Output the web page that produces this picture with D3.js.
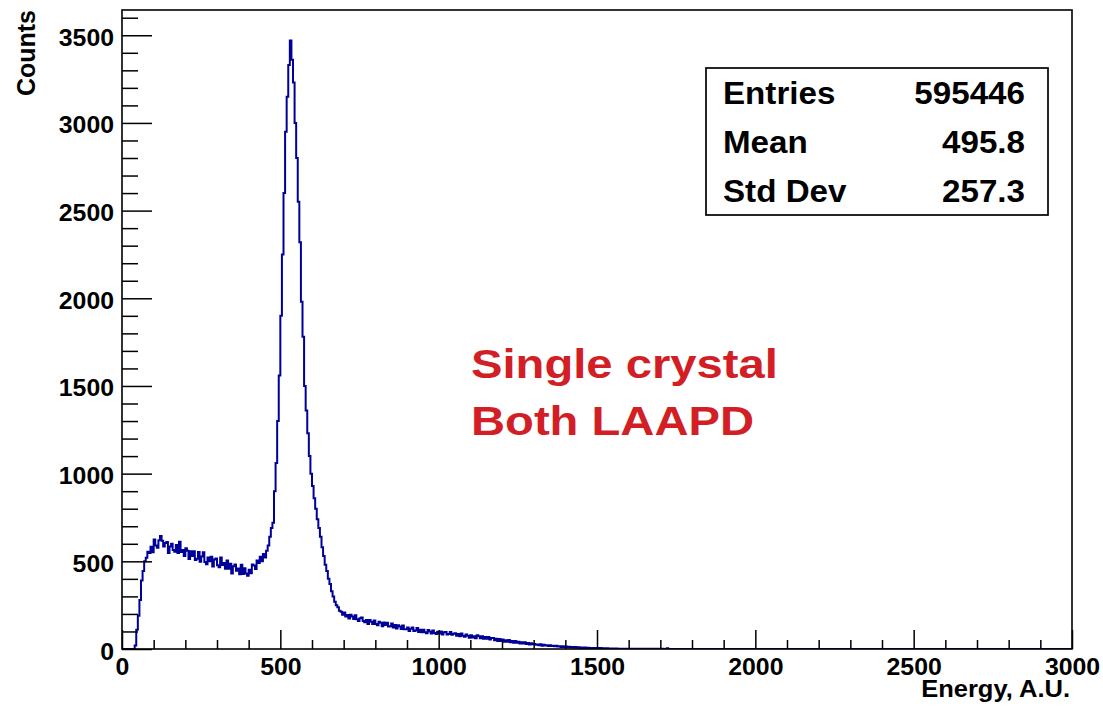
<!DOCTYPE html>
<html>
<head>
<meta charset="utf-8">
<script src="https://cdn.jsdelivr.net/npm/d3@7"></script>
<style>
  body { margin: 0; background: #ffffff; }
  text { font-family: "Liberation Sans", Arial, Helvetica, sans-serif; font-weight: bold; }
</style>
</head>
<body>
<svg id="chart" width="1103" height="708"></svg>
<script>
// Energy histogram: bins of 5 A.U. starting at 0, ten bins per row
const binStart = 0;
const binWidth = 5;
const counts = [
  0, 0, 0, 0, 0, 0, 0, 0, 20, 110,                       // 0
  190, 280, 390, 445, 500, 520, 555, 547, 583, 552,      // 50
  625, 590, 578, 620, 645, 618, 585, 605, 610, 547,      // 100
  585, 600, 564, 554, 593, 547, 612, 553, 565, 531,      // 150
  574, 560, 513, 558, 530, 558, 508, 515, 553, 498,      // 200
  528, 552, 496, 483, 522, 501, 526, 470, 510, 516,      // 250
  478, 466, 522, 479, 490, 458, 504, 458, 486, 431,      // 300
  472, 482, 446, 459, 426, 480, 428, 460, 430, 418,      // 350
  452, 432, 482, 476, 456, 504, 490, 526, 501, 542,      // 400
  522, 560, 590, 640, 690, 720, 900, 1060, 1300, 1560,   // 450
  1900, 2250, 2600, 2950, 3150, 3330, 3470, 3360, 3230, 3000, // 500
  2800, 2550, 2320, 1980, 1780, 1500, 1360, 1230, 1100, 1000, // 550
  930, 860, 800, 740, 690, 640, 580, 530, 480, 445,      // 600
  400, 370, 330, 300, 270, 250, 238, 218, 212, 196,      // 650
  208, 185, 194, 174, 196, 186, 171, 193, 169, 160,      // 700
  176, 180, 160, 152, 166, 142, 166, 156, 143, 163,      // 750
  142, 136, 155, 149, 130, 151, 137, 150, 129, 130,      // 800
  145, 123, 137, 117, 135, 129, 114, 134, 113, 112,      // 850
  123, 103, 116, 122, 102, 106, 120, 97, 110, 96,        // 900
  110, 95, 90, 109, 100, 89, 105, 91, 85, 99,            // 950
  88, 100, 83, 95, 97, 82, 86, 97, 81, 87,               // 1000
  90, 76, 86, 72, 88, 75, 70, 82, 75, 64,                // 1050
  78, 65, 73, 61, 78, 72, 62, 73, 59, 69,                // 1100
  59, 68, 54, 63, 63, 50, 58, 45, 57, 46,                // 1150
  54, 42, 50, 42, 51, 39, 45, 36, 45, 36,                // 1200
  42, 32, 39, 32, 39, 29, 34, 26, 33, 27,                // 1250
  29, 24, 26, 22, 27, 19, 24, 20, 22, 17,                // 1300
  21, 17, 19, 15, 18, 14, 16, 12, 15, 11,                // 1350
  14, 10, 13, 9, 12, 8, 11, 7, 10, 6,                    // 1400
  9, 6, 8, 5, 7, 5, 6, 4, 6, 4,                          // 1450
  5, 3, 5, 3, 4, 2, 4, 2, 3, 2,                          // 1500
  3, 2, 3, 1, 2, 1, 2, 1, 2, 1,                          // 1550
  1, 0, 2, 1, 1, 0, 1, 1, 0, 1,                          // 1600
  1, 0, 1, 0, 1, 1, 0, 1, 0, 1,                          // 1650
  0, 1, 0, 0, 4, 0, 0, 0, 0, 0                           // 1700
];

const xDomain = [0, 3000];
const yDomain = [0, 3644];
const xMajorTicks = [0, 500, 1000, 1500, 2000, 2500, 3000];
const yMajorTicks = [0, 500, 1000, 1500, 2000, 2500, 3000, 3500];
const minorStep = 100;

const xTitle = "Energy, A.U.";
const yTitle = "Counts";
const statsLabels = ["Entries", "Mean", "Std Dev"];
const statsValues = ["595446", "495.8", "257.3"];
const noteLines = ["Single crystal", "Both LAAPD"];

// Layout
const W = 1103, H = 708;
const margin = { left: 122, right: 31, top: 10, bottom: 59 };
const pw = W - margin.left - margin.right;
const ph = H - margin.top - margin.bottom;
const lineColor = "#000099";
const noteColor = "#d21f26";

const svg = d3.select("#chart");
const g = svg.append("g").attr("transform", `translate(${margin.left},${margin.top})`);

const x = d3.scaleLinear().domain(xDomain).range([0, pw]);
const y = d3.scaleLinear().domain(yDomain).range([ph, 0]);

// Places a text at (px, py) with a horizontal widening of the glyphs
function wideText(sel, px, py, k) {
  return sel.attr("x", 0).attr("y", 0)
    .attr("transform", `translate(${px},${py}) scale(${k},1)`);
}

// Clip histogram to the frame
g.append("clipPath").attr("id", "plotClip")
  .append("rect").attr("x", 0).attr("y", 0).attr("width", pw).attr("height", ph);

// Step outline of the histogram
const pts = counts.map((c, i) => [binStart + i * binWidth, c]);
pts.push([binStart + counts.length * binWidth, counts[counts.length - 1]]);
pts.push([xDomain[1], 0]);
const stepLine = d3.line()
  .x(d => x(d[0]))
  .y(d => y(d[1]))
  .curve(d3.curveStepAfter);

g.append("path")
  .datum(pts)
  .attr("clip-path", "url(#plotClip)")
  .attr("fill", "none")
  .attr("stroke", lineColor)
  .attr("stroke-width", 2)
  .attr("d", stepLine);

// Minor ticks
const xMinor = d3.range(xDomain[0], xDomain[1] + 1, minorStep).filter(v => !xMajorTicks.includes(v));
const yMinor = d3.range(0, yDomain[1], minorStep).filter(v => !yMajorTicks.includes(v));

g.append("g")
  .attr("transform", `translate(0,${ph})`)
  .call(d3.axisBottom(x).tickValues(xMinor).tickSize(-9).tickFormat(""))
  .call(a => a.select(".domain").remove())
  .call(a => a.selectAll("line").attr("stroke", "#000").attr("stroke-width", 1.5));

g.append("g")
  .call(d3.axisLeft(y).tickValues(yMinor).tickSize(-16).tickFormat(""))
  .call(a => a.select(".domain").remove())
  .call(a => a.selectAll("line").attr("stroke", "#000").attr("stroke-width", 1.5));

// Major ticks with labels
const xAxis = g.append("g")
  .attr("transform", `translate(0,${ph})`)
  .call(d3.axisBottom(x).tickValues(xMajorTicks).tickSize(-19).tickPadding(10).tickFormat(d3.format("d")));
xAxis.select(".domain").remove();
xAxis.selectAll("line").attr("stroke", "#000").attr("stroke-width", 1.5);
xAxis.selectAll("text")
  .attr("fill", "#000")
  .style("font-size", "23px").style("font-family", "Liberation Sans, Arial, sans-serif").style("font-weight", "bold")
  .attr("dy", null)
  .each(function () { wideText(d3.select(this), 0, 26, 1.08); });

const yAxis = g.append("g")
  .call(d3.axisLeft(y).tickValues(yMajorTicks).tickSize(-30).tickPadding(8).tickFormat(d3.format("d")));
yAxis.select(".domain").remove();
yAxis.selectAll("line").attr("stroke", "#000").attr("stroke-width", 1.5);
yAxis.selectAll("text")
  .attr("fill", "#000")
  .style("font-size", "23px").style("font-family", "Liberation Sans, Arial, sans-serif").style("font-weight", "bold")
  .attr("dy", null)
  .each(function () { wideText(d3.select(this), -8, 10, 1.08); });

// Frame
g.append("rect")
  .attr("x", 0).attr("y", 0).attr("width", pw).attr("height", ph)
  .attr("fill", "none").attr("stroke", "#000").attr("stroke-width", 1.6);

// Axis titles
wideText(svg.append("text"), margin.left + pw - 2, 697, 1.11)
  .attr("text-anchor", "end")
  .style("font-size", "23px")
  .text(xTitle);

svg.append("text")
  .attr("transform", `translate(35,${margin.top}) rotate(-90)`)
  .attr("text-anchor", "end")
  .style("font-size", "25px")
  .text(yTitle);

// Statistics box
const box = { x0: 706, y0: 68, x1: 1048, y1: 215 };
const sb = svg.append("g");
sb.append("rect")
  .attr("x", box.x0).attr("y", box.y0)
  .attr("width", box.x1 - box.x0).attr("height", box.y1 - box.y0)
  .attr("fill", "#fff").attr("stroke", "#000").attr("stroke-width", 1.7);
const rowH = (box.y1 - box.y0) / statsLabels.length;
statsLabels.forEach((lab, i) => {
  const base = box.y0 + rowH * (i + 0.5) + 11;
  wideText(sb.append("text"), box.x0 + 17, base, 1.07)
    .style("font-size", "31px").text(lab);
  wideText(sb.append("text"), box.x1 - 23, base, 1.07)
    .attr("text-anchor", "end").style("font-size", "31px").text(statsValues[i]);
});

// Annotation
noteLines.forEach((t, i) => {
  wideText(svg.append("text"), 471, 378 + i * 57, 1.18)
    .attr("fill", noteColor)
    .style("font-size", "40px")
    .text(t);
});
</script>
</body>
</html>
